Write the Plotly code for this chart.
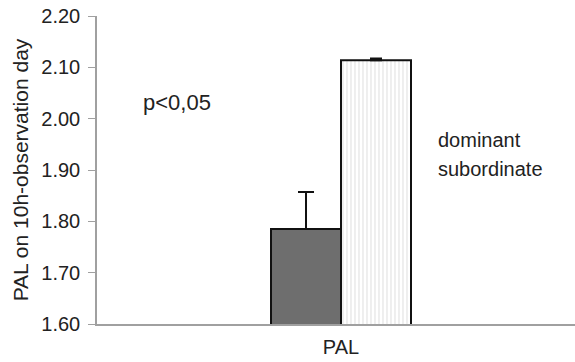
import plotly.graph_objects as go

# PAL means for the two rank groups
groups = ["dominant", "subordinate"]
pal_means = [1.785, 2.114]
pal_err_up = [0.072, 0.003]
category_label = ["PAL"]
y_ticks = [1.60, 1.70, 1.80, 1.90, 2.00, 2.10, 2.20]

bar_w = 1.0
offsets = [-bar_w / 2, bar_w / 2]

fig = go.Figure()
fig.add_trace(go.Bar(
    x=[offsets[0]], y=[pal_means[0]], width=bar_w, name=groups[0],
    marker=dict(color="#6e6e6e", line=dict(color="#111111", width=2)),
    error_y=dict(type="data", symmetric=False, array=[pal_err_up[0]], arrayminus=[0],
                 color="#111111", thickness=2, width=8),
))
fig.add_trace(go.Bar(
    x=[offsets[1]], y=[pal_means[1]], width=bar_w, name=groups[1],
    marker=dict(color="white", line=dict(color="#111111", width=2),
                pattern=dict(shape="|", fgcolor="#c8c8c8", bgcolor="white",
                             size=4, solidity=0.3)),
    error_y=dict(type="data", symmetric=False, array=[pal_err_up[1]], arrayminus=[0],
                 color="#111111", thickness=2, width=6),
))

family = "Liberation Sans, Arial, sans-serif"
font = dict(family=family, size=20, color="#222222")

L, R, T, B = 97, 0, 16, 38
W, H = 575, 362

fig.update_layout(
    width=W, height=H,
    margin=dict(l=L, r=R, t=T, b=B),
    plot_bgcolor="white", paper_bgcolor="white",
    showlegend=False, barmode="overlay",
    font=font,
    xaxis=dict(range=[-3.486, 3.343], tickvals=[0], ticktext=category_label,
               showline=True, linecolor="#a0a0a0", linewidth=1.5,
               ticks="", showgrid=False, zeroline=False, ticklabelstandoff=4),
    yaxis=dict(range=[1.6, 2.2], tickvals=y_ticks, tickformat=".2f",
               showline=True, linecolor="#a0a0a0", linewidth=1.5,
               ticks="outside", ticklen=7, tickcolor="#a0a0a0",
               ticklabelstandoff=4,
               showgrid=False, zeroline=False,
               title=dict(text="PAL on 10h-observation day", standoff=7,
                          font=dict(family=family, size=21, color="#222222"))),
)

# text placed in pixel terms of the plot area
plot_w, plot_h = W - L - R, H - T - B
def px_to_paper(px, py):
    return (px - L) / plot_w, (H - B - py) / plot_h

ax, ay = px_to_paper(141, 103)
fig.add_annotation(x=ax, y=ay, xref="paper", yref="paper", text="p<0,05",
                   font=dict(family=family, size=22, color="#222222"),
                   showarrow=False, xanchor="left", yanchor="middle")

# group labels, one line each
for name, py in zip(groups, [140, 169]):
    gx, gy = px_to_paper(436, py)
    fig.add_annotation(x=gx, y=gy, xref="paper", yref="paper", text=name,
                       showarrow=False, xanchor="left", yanchor="middle")

fig.write_html("out.html")
